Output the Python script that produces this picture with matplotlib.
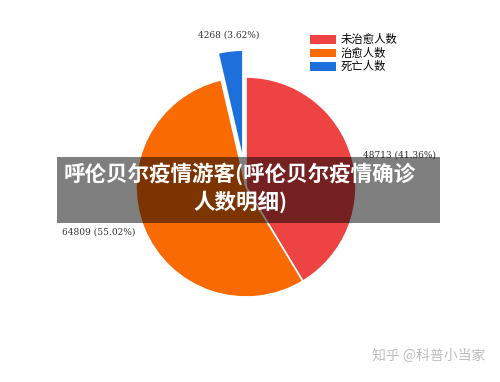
import matplotlib.pyplot as plt
from matplotlib.patches import Rectangle, Patch

plt.rcParams['font.family'] = ['Noto Sans CJK SC', 'DejaVu Sans']

labels = ['未治愈人数', '治愈人数', '死亡人数']
values = [48713, 64809, 4268]
colors = ['#EE4343', '#F96A02', '#1D6FDC']
explode = [0, 0, 27]  # offsets in data units (pixels here)

title = '呼伦贝尔疫情游客(呼伦贝尔疫情确诊\n人数明细)'
watermark = '知乎 @科普小当家'

fig = plt.figure(figsize=(5, 3.82), dpi=100)
ax = fig.add_axes([0, 0, 1, 1])

ax.pie(values, colors=colors, explode=explode, startangle=90, counterclock=False,
       center=(246, 195), radius=110, frame=True,
       wedgeprops=dict(edgecolor='white', linewidth=1.2))
ax.set_xlim(0, 500)
ax.set_ylim(0, 382)
ax.set_aspect('equal')
ax.axis('off')

total = sum(values)
pcts = [v / total * 100 for v in values]
lab_pos = [(363, 227), (62, 150), (198, 347)]
for v, p, (x, y) in zip(values, pcts, lab_pos):
    ax.text(x, y, f'{v} ({p:.2f}%)', fontsize=6.5, family='DejaVu Serif',
            color='#333333', ha='left', va='center')

handles = [Patch(facecolor=c, label=l) for c, l in zip(colors, labels)]
fig.legend(handles=handles, loc='upper left', bbox_to_anchor=(0.608, 0.925),
           frameon=False, fontsize=8.2, handlelength=2.3, handleheight=0.8,
           labelspacing=0.22, handletextpad=0.45, borderpad=0)

ax.add_patch(Rectangle((57, 382 - 223), 383, 66, facecolor='black', alpha=0.5,
                       edgecolor='none', zorder=5))
ax.text(240, 382 - 188, title, ha='center', va='center', color='white',
        fontsize=15.5, fontweight='heavy', linespacing=1.3, zorder=6)

ax.text(485, 382 - 356, watermark, ha='right', va='center', color='#bdbdbd',
        fontsize=10, zorder=6)

fig.savefig('out.png', dpi=100)
